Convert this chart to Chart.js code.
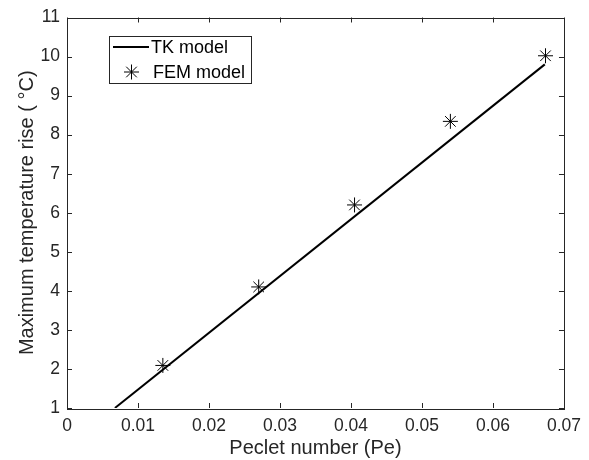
<!DOCTYPE html>
<html>
<head>
<meta charset="utf-8">
<script src="https://cdn.jsdelivr.net/npm/chart.js@4"></script>
<style>
  html, body { margin: 0; padding: 0; background: #fff; }
  #wrap { width: 589px; height: 460px; }
</style>
</head>
<body>
<div id="wrap"><canvas id="chart" width="589" height="460"></canvas></div>
<script>
// Data
const tkPe = [0.00675, 0.0673];
const tkRise = [1.0, 9.8];
const femPe = [0.0135, 0.027, 0.0405, 0.054, 0.0674];
const femRise = [2.09, 4.1, 6.2, 8.34, 10.02];
const xTicks = [0, 0.01, 0.02, 0.03, 0.04, 0.05, 0.06, 0.07];
const yTicks = [1, 2, 3, 4, 5, 6, 7, 8, 9, 10, 11];

const FONT = 'Liberation Sans, Arial, Helvetica, sans-serif';

// Box around the axes with MATLAB-style inward ticks, plus the legend
const matlabFrame = {
    id: 'matlabFrame',
    afterDraw(chart) {
        const ctx = chart.ctx;
        const a = chart.chartArea;
        const xs = chart.scales.x, ys = chart.scales.y;
        const tick = 5;
        ctx.save();
        ctx.strokeStyle = '#262626';
        ctx.lineWidth = 1;
        ctx.beginPath();
        xTicks.forEach(v => {
            const px = Math.round(xs.getPixelForValue(v)) + 0.5;
            ctx.moveTo(px, a.bottom); ctx.lineTo(px, a.bottom - tick);
            ctx.moveTo(px, a.top); ctx.lineTo(px, a.top + tick);
        });
        yTicks.forEach(v => {
            const py = Math.round(ys.getPixelForValue(v)) + 0.5;
            ctx.moveTo(a.left, py); ctx.lineTo(a.left + tick, py);
            ctx.moveTo(a.right, py); ctx.lineTo(a.right - tick, py);
        });
        ctx.stroke();
        ctx.strokeRect(Math.round(a.left) + 0.5, Math.round(a.top) + 0.5,
            Math.round(a.right - a.left), Math.round(a.bottom - a.top));

        // Legend
        const lx = 109.5, ly = 36.5, lw = 142, lh = 47;
        ctx.fillStyle = '#fff';
        ctx.fillRect(lx, ly, lw, lh);
        ctx.strokeRect(lx, ly, lw, lh);
        ctx.font = '18px ' + FONT;
        ctx.fillStyle = '#000';
        ctx.textBaseline = 'middle';
        ctx.textAlign = 'left';
        const ds = chart.data.datasets;
        ctx.strokeStyle = '#000';
        ctx.lineWidth = 2;
        ctx.beginPath();
        ctx.moveTo(113, 47); ctx.lineTo(149, 47);
        ctx.stroke();
        ctx.fillText(ds[0].label, 151, 48);
        ctx.lineWidth = 1;
        Chart.helpers.drawPoint(ctx, { pointStyle: 'star', radius: 7.5, rotation: 0, borderWidth: 1 }, 131.5, 72);
        ctx.fillText(ds[1].label, 153, 73);
        ctx.restore();
    }
};

new Chart(document.getElementById('chart'), {
    type: 'scatter',
    data: {
        datasets: [{
            label: 'TK model',
            data: tkPe.map((x, i) => ({ x: x, y: tkRise[i] })),
            showLine: true,
            borderColor: '#000',
            borderWidth: 2,
            pointRadius: 0,
            fill: false
        }, {
            label: 'FEM model',
            data: femPe.map((x, i) => ({ x: x, y: femRise[i] })),
            showLine: false,
            pointStyle: 'star',
            pointRadius: 7.5,
            pointBorderColor: '#000',
            pointBorderWidth: 1,
            pointBackgroundColor: '#000'
        }]
    },
    options: {
        responsive: false,
        animation: false,
        layout: { padding: { top: 16, right: 24, left: 0, bottom: 0 } },
        plugins: {
            legend: { display: false },
            tooltip: { enabled: false }
        },
        scales: {
            x: {
                type: 'linear',
                min: 0,
                max: 0.07,
                afterBuildTicks: s => { s.ticks = xTicks.map(v => ({ value: v })); },
                afterFit: s => { s.height = 52; },
                grid: { display: false, drawTicks: false },
                border: { display: false },
                ticks: {
                    color: '#262626',
                    padding: 8,
                    font: { family: FONT, size: 17.5 },
                    maxRotation: 0,
                    autoSkip: false,
                    callback: v => String(Math.round(v * 100) / 100)
                },
                title: {
                    display: true,
                    text: 'Peclet number (Pe)',
                    color: '#262626',
                    font: { family: FONT, size: 20 },
                    padding: { top: 0, bottom: 0 }
                }
            },
            y: {
                type: 'linear',
                min: 1,
                max: 11,
                afterBuildTicks: s => { s.ticks = yTicks.map(v => ({ value: v })); },
                afterFit: s => { s.width = 67; },
                grid: { display: false, drawTicks: false },
                border: { display: false },
                ticks: {
                    color: '#262626',
                    padding: 7,
                    autoSkip: false,
                    font: { family: FONT, size: 17.5 }
                },
                title: {
                    display: true,
                    text: 'Maximum temperature rise ( \u00B0C)',
                    color: '#262626',
                    font: { family: FONT, size: 20 },
                    padding: { top: 15, bottom: 0 }
                }
            }
        }
    },
    plugins: [matlabFrame]
});
</script>
</body>
</html>
